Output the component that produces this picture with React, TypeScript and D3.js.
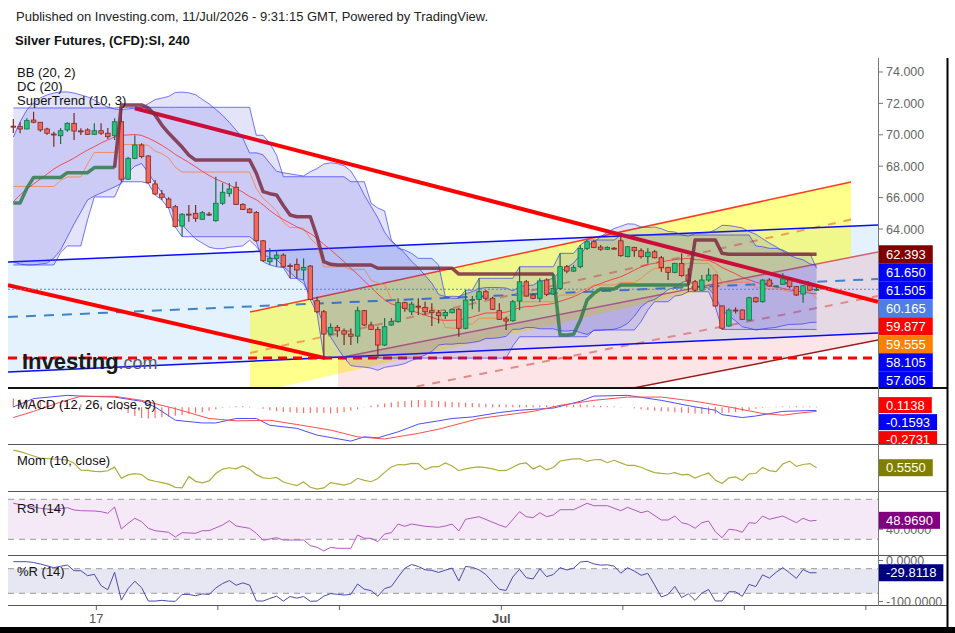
import React from "react";
import * as d3 from "d3";

// 4h candles (bar 0 = first visible bar)
const opens = [
  70.55, 70.52, 70.37, 70.94, 70.8, 70.37, 70.05, 69.94, 70.31, 70.73,
  70.25, 70.31, 70.03, 70.26, 70.1, 69.94, 70.83, 67.17, 68.5, 69.35,
  68.65, 66.87, 66.23, 65.91, 65.42, 64.19, 64.95, 65.0, 64.62, 64.95,
  64.53, 65.64, 66.27, 66.66, 65.57, 65.27, 65.06, 63.25, 61.92, 62.13,
  62.34, 61.67, 61.75, 61.39, 61.64, 59.43, 58.73, 57.31, 57.74, 57.52,
  57.31, 57.18, 58.8, 57.89, 57.61, 56.61, 57.89, 58.1, 59.31, 58.73,
  59.09, 59.01, 58.8, 58.67, 58.48, 58.67, 58.89, 57.68, 59.5, 59.52,
  60.01, 59.59, 58.8, 58.27, 58.16, 59.41, 60.64, 59.8, 59.59, 60.75,
  59.86, 60.22, 61.6, 61.32, 61.6, 62.77, 63.19, 62.85, 62.71, 62.78,
  63.25, 62.24, 62.83, 62.62, 62.24, 62.55, 62.17, 61.54, 61.24, 61.81,
  61.07, 60.64, 60.11, 60.75, 61.07, 59.1, 57.82, 58.84, 58.84, 58.2,
  59.62, 59.37, 60.75, 60.37, 60.48, 60.75, 60.33, 59.86, 60.39, 60.11,
];
const highs = [
  71.01, 70.8, 71.05, 71.47, 70.82, 70.45, 70.2, 70.43, 70.8, 71.39,
  70.41, 70.41, 70.73, 70.73, 70.43, 71.05, 71.75, 68.6, 69.97, 69.46,
  68.7, 67.12, 66.48, 66.02, 65.53, 65.02, 65.53, 65.53, 65.15, 65.08,
  67.33, 66.93, 66.93, 67.01, 65.64, 65.34, 65.15, 63.3, 62.77, 62.66,
  62.45, 61.81, 62.13, 62.13, 61.71, 59.69, 58.84, 57.99, 57.89, 57.67,
  57.67, 59.05, 58.84, 58.1, 57.78, 58.33, 58.33, 59.59, 59.37, 59.37,
  59.59, 59.37, 59.27, 58.84, 58.84, 58.95, 58.97, 60.11, 59.73, 60.86,
  60.11, 59.69, 59.27, 58.41, 59.48, 61.6, 60.75, 59.9, 60.86, 60.86,
  61.18, 62.45, 61.71, 61.71, 62.98, 63.3, 63.3, 62.98, 62.9, 62.85,
  63.62, 62.92, 62.87, 62.77, 62.77, 62.66, 62.28, 61.6, 61.85, 62.45,
  61.505, 60.75, 61.07, 61.5, 61.11, 59.15, 58.95, 59.01, 58.89, 59.69,
  59.69, 60.8, 60.86, 60.42, 61.18, 60.86, 60.37, 60.43, 60.5, 60.33,
];
const lows = [
  70.11, 70.1, 70.35, 70.73, 70.2, 70.0, 69.24, 69.41, 70.2, 69.67,
  69.99, 69.99, 69.99, 69.99, 69.73, 69.67, 67.01, 67.12, 68.44, 68.5,
  66.9, 66.17, 65.85, 65.32, 64.11, 63.51, 64.46, 64.46, 64.57, 64.83,
  64.46, 65.53, 66.06, 65.53, 65.21, 65.0, 63.19, 61.92, 61.71, 61.6,
  61.54, 60.86, 60.86, 60.75, 59.48, 58.63, 55.85, 57.25, 57.14, 56.61,
  56.61, 56.72, 57.82, 57.57, 55.78, 56.55, 57.82, 58.03, 58.73, 58.52,
  58.52, 58.52, 57.82, 57.99, 58.25, 58.63, 57.14, 57.61, 58.89, 58.73,
  59.48, 58.84, 58.2, 57.57, 58.1, 58.84, 59.69, 59.52, 59.37, 59.73,
  59.8, 60.11, 61.18, 61.28, 61.5, 62.66, 62.77, 62.62, 62.66, 62.7,
  62.24, 62.2, 62.24, 62.13, 61.81, 62.13, 61.28, 60.75, 61.18, 60.96,
  60.01, 60.01, 60.07, 60.64, 59.05, 57.605, 57.78, 58.63, 58.2, 58.16,
  59.31, 59.31, 60.33, 60.33, 60.43, 60.22, 59.73, 59.31, 60.07, 60.07,
];
const closes = [
  70.5, 70.37, 70.9, 70.8, 70.31, 70.1, 70.02, 70.26, 70.73, 70.24,
  70.22, 70.03, 70.26, 70.1, 69.88, 70.83, 67.17, 68.5, 69.35, 68.61,
  66.95, 66.23, 66.02, 65.38, 64.15, 64.94, 64.93, 64.68, 65.04, 64.93,
  65.64, 66.34, 66.55, 65.57, 65.25, 65.04, 63.25, 61.98, 62.13, 62.34,
  61.6, 61.65, 61.39, 61.56, 59.52, 58.73, 57.31, 57.74, 57.52, 57.31,
  57.17, 58.8, 57.89, 57.61, 56.61, 57.78, 58.1, 59.31, 58.95, 59.22,
  59.03, 58.73, 58.67, 58.48, 58.69, 58.89, 57.68, 59.48, 59.52, 60.01,
  59.59, 58.89, 58.25, 58.14, 59.37, 60.64, 59.73, 59.59, 60.69, 59.84,
  60.22, 61.6, 61.32, 61.54, 62.77, 63.19, 62.83, 62.71, 62.83, 62.76,
  62.3, 62.87, 62.62, 62.24, 62.52, 62.17, 61.54, 61.24, 61.81, 61.03,
  60.69, 60.11, 60.75, 61.07, 59.1, 57.68, 58.84, 58.82, 58.25, 59.62,
  59.37, 60.75, 60.37, 60.38, 60.82, 60.33, 59.8, 60.39, 60.11, 60.165,
];

// SuperTrend (10, 3), read per bar
const superTrend = [
  65.66, 65.66, 66.6, 67.28, 67.28, 67.28, 67.28, 67.28, 67.59, 67.59,
  67.59, 67.59, 67.91, 67.91, 67.91, 67.91, 71.9, 71.9, 71.9, 71.9,
  71.7, 71.26, 70.62, 70.11, 69.67, 69.22, 68.71, 68.39, 68.39, 68.39,
  68.39, 68.39, 68.39, 68.39, 68.39, 68.39, 67.55, 66.38, 66.25, 66.17,
  65.5, 64.89, 64.78, 64.78, 64.78, 63.51, 61.92, 61.75, 61.71, 61.71,
  61.71, 61.71, 61.71, 61.71, 61.5, 61.5, 61.5, 61.5, 61.5, 61.5,
  61.5, 61.5, 61.5, 61.5, 61.5, 61.5, 61.13, 61.13, 61.13, 61.13,
  61.13, 61.13, 61.13, 61.13, 61.13, 61.13, 61.13, 61.13, 61.13, 61.13,
  61.13, 57.25, 57.25, 57.3, 58.2, 59.48, 59.9, 60.18, 60.18, 60.18,
  60.43, 60.43, 60.43, 60.43, 60.43, 60.43, 60.43, 60.43, 60.43, 60.43,
  60.43, 63.3, 63.3, 63.3, 63.3, 62.45, 62.393, 62.393, 62.393, 62.393,
  62.393, 62.393, 62.393, 62.393, 62.393, 62.393, 62.393, 62.393, 62.393, 62.393,
];

// first bars, whose windows reach back before the visible data
const bbUpperEarly = [69.86, 70.82, 71.58, 72.03, 72.35, 72.54, 72.66, 72.73, 72.73, 72.66, 72.54, 72.41, 72.22, 71.96, 71.77, 71.64, 71.6, 71.65, 71.7];
const bbBasisEarly = [65.74, 66.17, 66.55, 66.87, 67.18, 67.5, 67.82, 68.08, 68.29, 68.52, 68.78, 69.03, 69.24, 69.48, 69.67, 69.86, 69.96, 69.99, 70.02];
const bbLowerEarly = [61.9, 61.77, 61.71, 61.71, 61.77, 61.83, 62.15, 62.66, 63.49, 64.32, 65.08, 65.85, 66.1, 66.29, 66.48, 66.68, 66.9, 67.6, 68.0];
const dcUpperEarly = [71.71, 71.71, 71.71, 71.71, 71.71, 71.71, 71.71, 71.71, 71.71, 71.71, 71.71, 71.71, 71.71, 71.71, 71.71, 71.71, 71.75, 71.75, 71.75];
const dcLowerEarly = [61.71, 61.71, 61.71, 61.71, 61.71, 61.71, 61.71, 62.5, 62.92, 62.92, 62.92, 64.6, 66.04, 66.04, 66.04, 66.04, 67.01, 67.01, 67.01];
const momEarly = [6.2, 5.7, 5.0, 4.3, 3.6, 3.5, 3.3, 3.2, 3.0, 2.0];
const willrEarly = [-2.9, -2.9, -2.9, -5, -8.5, -13, -17.6, -14, -11, -24.9, -24.9, -37, -33.7];

// MACD (12, 26, close, 9): [bar, value]
const macdLine: [number, number][] = [
  [0, 0.02], [3, 0.45], [8, 0.62], [10, 0.58], [15, 0.53], [19, 0.31], [21, 0.02], [24, -0.67],
  [28, -0.81], [30, -0.81], [33, -0.58], [36, -0.58], [38, -0.93], [42, -1.09], [45, -1.44],
  [50, -1.75], [52, -1.53], [54, -1.58], [57, -1.27], [60, -0.87], [63, -0.7], [65, -0.58],
  [68, -0.5], [72, -0.27], [75, -0.15], [80, -0.04], [84, 0.31], [86, 0.58], [91, 0.62],
  [96, 0.36], [101, 0.02], [104, -0.15], [105, -0.38], [108, -0.53], [110, -0.45], [114, -0.21],
  [119, -0.1593],
];
const signalLine: [number, number][] = [
  [0, -0.53], [3, -0.21], [7, 0.27], [10, 0.57], [15, 0.57], [19, 0.36], [24, -0.07], [29, -0.58],
  [33, -0.7], [38, -0.67], [42, -0.89], [47, -1.18], [51, -1.53], [55, -1.64], [60, -1.35],
  [63, -1.13], [65, -0.95], [69, -0.58], [77, -0.21], [81, 0.1], [86, 0.36], [91, 0.53],
  [96, 0.53], [101, 0.31], [106, 0.02], [111, -0.32], [114, -0.41], [116, -0.32], [119, -0.21],
];
const macdHist = [
  0.45, 0.42, 0.4, 0.38, 0.35, 0.32, 0.28, 0.25, 0.22, 0.18,
  0.15, 0.12, 0.08, 0.05, 0.02, -0.02, -0.15, -0.3, -0.45, -0.55,
  -0.58, -0.56, -0.52, -0.48, -0.44, -0.4, -0.35, -0.3, -0.25, -0.18,
  -0.1, -0.03, 0.03, 0.05, 0.05, 0.03, 0.0, -0.08, -0.15, -0.2,
  -0.24, -0.26, -0.28, -0.3, -0.3, -0.28, -0.3, -0.32, -0.3, -0.25,
  -0.18, -0.1, 0.02, 0.08, 0.14, 0.2, 0.25, 0.3, 0.33, 0.36,
  0.38, 0.36, 0.34, 0.32, 0.3, 0.28, 0.26, 0.24, 0.22, 0.2,
  0.18, 0.16, 0.15, 0.14, 0.13, 0.12, 0.12, 0.11, 0.1, 0.1,
  0.09, 0.1, 0.12, 0.13, 0.14, 0.12, 0.1, 0.08, 0.06, 0.04,
  0.02, 0.0, -0.05, -0.1, -0.14, -0.18, -0.2, -0.22, -0.25, -0.28,
  -0.3, -0.32, -0.33, -0.34, -0.32, -0.3, -0.28, -0.25, -0.2, -0.14,
  -0.08, -0.03, 0.02, 0.03, 0.04, 0.04, 0.05, 0.04, 0.04, 0.03,
];

// RSI (14): [bar, value]
const rsiLine: [number, number][] = [
  [0, 66], [2, 63.6], [4, 61], [6, 59.6], [8, 61.6], [9, 59.3], [10, 58.6], [12, 58.3], [13, 57.6],
  [14, 56], [15, 62.3], [16, 40.3], [17, 46], [18, 51], [19, 47.6], [20, 41], [21, 38.6], [23, 37],
  [24, 32.3], [25, 36.6], [27, 36], [28, 38.6], [29, 38.6], [31, 44.3], [32, 48.6], [33, 43.3],
  [35, 41], [36, 36], [37, 29], [39, 31.6], [40, 29.3], [41, 29.3], [43, 29.3], [44, 23.6], [45, 22],
  [46, 18.3], [47, 22], [48, 21], [50, 21], [51, 34.3], [52, 31], [53, 31], [54, 27.6], [55, 35.3],
  [56, 36.6], [57, 45.3], [58, 43], [59, 45.3], [61, 43], [63, 42], [64, 43.3], [65, 45.3], [66, 38.3],
  [67, 50], [69, 52.6], [72, 44.3], [73, 42], [75, 57.6], [76, 52.6], [77, 51.6], [78, 56.6],
  [79, 52.6], [80, 54.3], [81, 59.6], [83, 59.6], [85, 66], [86, 63.6], [88, 63.6], [90, 58.6],
  [91, 62], [93, 56.6], [94, 58.3], [96, 49.3], [97, 49.3], [98, 53.3], [99, 46.6], [100, 45],
  [101, 41], [102, 46.6], [103, 48.3], [104, 37.6], [105, 31.6], [106, 40], [107, 39.3], [108, 37],
  [109, 46.6], [110, 46], [111, 53.3], [112, 50], [114, 53.3], [116, 46.6], [117, 51], [118, 48.3],
  [119, 48.969],
];

const priceTicks = [64, 66, 68, 70, 72, 74];
const timeTicks = [12.3, 30.3, 48.3, 72.3, 90.3, 108.3, 126.3];
const timeLabels = ["17", "", "", "Jul", "", "", ""];

const priceTags = ["62.393", "61.650", "61.505", "60.165", "59.877", "59.555", "58.105", "57.605"];
const priceTagColors = ["#800000", "#0000ff", "#0000ff", "#4f7fe6", "#ff0000", "#ff7f00", "#0000ff", "#0000ff"];
const macdTags = ["0.1138", "-0.1593", "-0.2731"];
const macdTagColors = ["#ff0000", "#0000ff", "#ff0000"];
const momTag = "0.5550";
const rsiTag = "48.9690";
const willrTag = "-29.8118";

// drawings on the chart: [bar, price]
const blueTop: [number, number][] = [[-0.79, 61.9], [128.1, 64.25]];
const blueBottom: [number, number][] = [[-0.79, 54.89], [128.1, 57.38]];
const yellowTop: [number, number][] = [[35.06, 58.71], [124.1, 66.99]];
const yellowBottom: [number, number][] = [[35.06, 53.5], [124.1, 62.22]];
const pinkTop: [number, number][] = [[48.1, 55.78], [128.1, 62.54]];
const pinkBottom: [number, number][] = [[48.1, 50.19], [128.1, 56.93]];
const redUpper: [number, number][] = [[18.0, 71.69], [128.1, 59.37]];
const redLower: [number, number][] = [[-0.79, 60.43], [46.2, 55.78]];
const supportLevel = 55.78;

const App: React.FC = () => {
  const svgRef = React.useRef<SVGSVGElement | null>(null);

  React.useEffect(() => {
    if (!svgRef.current) return;
    const svg = d3.select(svgRef.current);
    svg.selectAll("*").remove();

    const font = "'Liberation Sans', Arial, Helvetica, sans-serif";
    const n = closes.length;
    const left = 8;
    const right = 878;
    const edge = 947;
    const main = { top: 58, bottom: 387 };
    const macdP = { top: 388, bottom: 444 };
    const momP = { top: 444, bottom: 491 };
    const rsiP = { top: 491, bottom: 555 };
    const wrP = { top: 555, bottom: 605 };

    const x = d3.scaleLinear().domain([-0.79, 128.1]).range([left, right]);
    const y = d3.scaleLinear().domain([53.94, 74.89]).range([main.bottom, main.top]);
    const yMacd = d3.scaleLinear().domain([-1.9, 1.0]).range([macdP.bottom, macdP.top]);
    const yMom = d3.scaleLinear().domain([-6.92, 8.14]).range([momP.bottom, momP.top]);
    const yRsi = d3.scaleLinear().domain([14.3, 78.3]).range([rsiP.bottom, rsiP.top]);
    const yWr = d3.scaleLinear().domain([-108.5, 13.4]).range([wrP.bottom, wrP.top]);

    // indicators from the candles
    const win = (arr: number[], i: number, len: number) => arr.slice(i - len + 1, i + 1);
    const bb = closes.map((_, i) => {
      if (i < 19) return { up: bbUpperEarly[i], mid: bbBasisEarly[i], lo: bbLowerEarly[i] };
      const w = win(closes, i, 20);
      const m = d3.mean(w) as number;
      const sd = Math.sqrt(d3.mean(w, (c) => (c - m) ** 2) as number);
      return { up: m + 2 * sd, mid: m, lo: m - 2 * sd };
    });
    const dc = closes.map((_, i) => {
      const up = i < 19 ? dcUpperEarly[i] : (d3.max(win(highs, i, 20)) as number);
      const lo = i < 19 ? dcLowerEarly[i] : (d3.min(win(lows, i, 20)) as number);
      return { up, lo, mid: (up + lo) / 2 };
    });
    const mom = closes.map((c, i) => (i < 10 ? momEarly[i] : c - closes[i - 10]));
    const willr = closes.map((c, i) => {
      if (i < 13) return willrEarly[i];
      const hh = d3.max(win(highs, i, 14)) as number;
      const ll = d3.min(win(lows, i, 14)) as number;
      return ((hh - c) / (hh - ll)) * -100;
    });

    svg.append("rect").attr("width", 955).attr("height", 633).attr("fill", "#fff");

    const defs = svg.append("defs");
    const addClip = (id: string, x0: number, x1: number, top: number, bottom: number) =>
      defs.append("clipPath").attr("id", id).append("rect")
        .attr("x", x0).attr("y", top).attr("width", x1 - x0).attr("height", bottom - top);
    addClip("c-main", left, right, main.top, main.bottom);
    addClip("c-macd", left, right, macdP.top, macdP.bottom);
    addClip("c-mom", left, right, momP.top, momP.bottom);
    addClip("c-rsi", left, right, rsiP.top, rsiP.bottom);
    addClip("c-wr", left, right, wrP.top, wrP.bottom);
    addClip("a-main", right, edge, main.top, main.bottom);
    addClip("a-macd", right, edge, macdP.top + 1, macdP.bottom);
    addClip("a-mom", right, edge, momP.top + 1, momP.bottom);
    addClip("a-rsi", right, edge, rsiP.top + 1, rsiP.bottom);
    addClip("a-wr", right, edge, wrP.top + 1, wrP.bottom + 2);

    const lineOf = (sy: d3.ScaleLinear<number, number>) =>
      d3.line<[number, number]>().x((d) => x(d[0])).y((d) => sy(d[1]));
    const priceLine = lineOf(y);

    const g = svg.append("g").attr("clip-path", "url(#c-main)");

    const poly = (top: [number, number][], bottom: [number, number][], fill: string) =>
      g.append("path")
        .attr("d", priceLine([...top, ...bottom.slice().reverse()]) + "Z")
        .attr("fill", fill);
    const seg = (pts: [number, number][], stroke: string, width: number, dash?: string) =>
      g.append("path").attr("d", priceLine(pts)).attr("fill", "none")
        .attr("stroke", stroke).attr("stroke-width", width)
        .attr("stroke-dasharray", dash || null);
    const mid = (a: [number, number][], b: [number, number][]) =>
      a.map((p, k) => [p[0], (p[1] + b[k][1]) / 2] as [number, number]);

    // drawings
    poly(blueTop, blueBottom, "rgba(33,150,243,0.12)");
    poly(yellowTop, yellowBottom, "rgba(255,255,0,0.45)");
    poly(pinkTop, pinkBottom, "rgba(242,54,69,0.13)");
    seg(mid(blueTop, blueBottom), "#3d85c6", 2, "10,8");
    seg(mid(yellowTop, yellowBottom), "#f0a050", 2, "8,8");
    seg(mid(pinkTop, pinkBottom), "#e08a8a", 2, "8,8");
    seg(yellowTop, "#ff3b1f", 1.5);
    seg(pinkTop, "#d0606a", 1.5);
    seg(pinkBottom, "#9b1c1c", 1.5);
    seg(blueTop, "#0a0aff", 1.5);
    seg(blueBottom, "#0a0aff", 1.5);
    seg(redUpper, "#ff0000", 4);
    seg(redLower, "#ff0000", 4);
    seg([[-0.79, supportLevel], [128.1, supportLevel]], "#ff0000", 3, "9,6");

    // Bollinger and Donchian fills
    const idx = d3.range(n);
    const areaOf = (up: (i: number) => number, lo: (i: number) => number) =>
      d3.area<number>().x((i) => x(i)).y0((i) => y(lo(i))).y1((i) => y(up(i)))(idx);
    g.append("path").attr("d", areaOf((i) => dc[i].up, (i) => dc[i].lo)).attr("fill", "rgba(60,60,220,0.14)");
    g.append("path").attr("d", areaOf((i) => bb[i].up, (i) => bb[i].lo)).attr("fill", "rgba(60,60,220,0.14)");

    const series = (vals: number[], stroke: string, width: number, opacity: number) =>
      g.append("path")
        .attr("d", priceLine(vals.map((v, i) => [i, v] as [number, number])))
        .attr("fill", "none").attr("stroke", stroke)
        .attr("stroke-width", width).attr("stroke-opacity", opacity);
    series(dc.map((d) => d.up), "#3030ff", 1, 0.65);
    series(dc.map((d) => d.lo), "#3030ff", 1, 0.65);
    series(dc.map((d) => d.mid), "#ff7a30", 1, 0.75);
    series(bb.map((d) => d.up), "#3030ff", 1, 0.65);
    series(bb.map((d) => d.lo), "#3030ff", 1, 0.65);
    series(bb.map((d) => d.mid), "#ff2020", 1, 0.75);

    // last close line
    seg([[-0.79, closes[n - 1]], [128.1, closes[n - 1]]], "#5b7fd8", 1, "2,2");

    // candles
    const bw = 4.6;
    idx.forEach((i) => {
      const o = opens[i], c = closes[i];
      const up = c > o, down = c < o;
      const edgeC = up ? "#1d6b45" : down ? "#7a2a24" : "#4a2a2a";
      const fill = up ? "#21c47c" : down ? "#f4675a" : "#4a2a2a";
      g.append("line").attr("x1", x(i)).attr("x2", x(i))
        .attr("y1", y(highs[i])).attr("y2", y(lows[i]))
        .attr("stroke", edgeC).attr("stroke-width", 1.2);
      const top = y(Math.max(o, c));
      const h = Math.max(1, Math.abs(y(o) - y(c)));
      g.append("rect").attr("x", x(i) - bw / 2).attr("y", top)
        .attr("width", bw).attr("height", h)
        .attr("fill", fill).attr("stroke", edgeC).attr("stroke-width", 0.8);
    });

    // SuperTrend, coloured by trend
    const trendUp = closes.map((c, i) => c > superTrend[i]);
    let start = 0;
    for (let i = 1; i <= n; i++) {
      if (i === n || trendUp[i] !== trendUp[start]) {
        const pts = d3.range(Math.max(0, start - 1), i).map((k) => [k, superTrend[k]] as [number, number]);
        g.append("path").attr("d", priceLine(pts)).attr("fill", "none")
          .attr("stroke", trendUp[start] ? "#2e7d4a" : "#7b2b3f")
          .attr("stroke-width", 3.5).attr("stroke-opacity", 0.85)
          .attr("stroke-linejoin", "round");
        start = i;
      }
    }

    // watermark
    const logo = g.append("text").attr("x", 22).attr("y", 369).attr("font-family", font);
    logo.append("tspan").text("Investing").attr("font-size", 22).attr("font-weight", "bold").attr("fill", "#1a1a1a");
    logo.append("tspan").text(".com").attr("font-size", 18).attr("fill", "#5a5a5a");

    // legends
    const legend = (txt: string, ly: number) =>
      svg.append("text").attr("x", 17).attr("y", ly).attr("font-family", font)
        .attr("font-size", 13).attr("fill", "#111").text(txt);
    legend("BB (20, 2)", 77);
    legend("DC (20)", 91);
    legend("SuperTrend (10, 3)", 105);

    // MACD pane
    const gm = svg.append("g").attr("clip-path", "url(#c-macd)");
    idx.forEach((i) => {
      gm.append("line").attr("x1", x(i)).attr("x2", x(i))
        .attr("y1", yMacd(0)).attr("y2", yMacd(macdHist[i]))
        .attr("stroke", "#ff5252").attr("stroke-width", 1.2).attr("stroke-opacity", 0.85);
    });
    gm.append("path").attr("d", lineOf(yMacd)(macdLine)).attr("fill", "none").attr("stroke", "#4d4dff").attr("stroke-width", 1);
    gm.append("path").attr("d", lineOf(yMacd)(signalLine)).attr("fill", "none").attr("stroke", "#ff4d4d").attr("stroke-width", 1);
    legend("MACD (12, 26, close, 9)", 409);

    // Momentum pane
    const go = svg.append("g").attr("clip-path", "url(#c-mom)");
    go.append("path").attr("d", lineOf(yMom)(mom.map((v, i) => [i, v] as [number, number])))
      .attr("fill", "none").attr("stroke", "#adad3e").attr("stroke-width", 1.2);
    legend("Mom (10, close)", 465);

    // RSI pane
    const gr = svg.append("g").attr("clip-path", "url(#c-rsi)");
    gr.append("rect").attr("x", left).attr("width", right - left)
      .attr("y", yRsi(70)).attr("height", yRsi(30) - yRsi(70)).attr("fill", "rgba(156,39,176,0.1)");
    [70, 30].forEach((v) =>
      gr.append("line").attr("x1", left).attr("x2", right).attr("y1", yRsi(v)).attr("y2", yRsi(v))
        .attr("stroke", "#9a9a9a").attr("stroke-dasharray", "6,5"));
    gr.append("path").attr("d", lineOf(yRsi)(rsiLine)).attr("fill", "none").attr("stroke", "#b05ac0").attr("stroke-width", 1);
    legend("RSI (14)", 513);

    // Williams %R pane
    const gw = svg.append("g").attr("clip-path", "url(#c-wr)");
    gw.append("rect").attr("x", left).attr("width", right - left)
      .attr("y", yWr(-20)).attr("height", yWr(-80) - yWr(-20)).attr("fill", "rgba(60,60,160,0.12)");
    [-20, -80].forEach((v) =>
      gw.append("line").attr("x1", left).attr("x2", right).attr("y1", yWr(v)).attr("y2", yWr(v))
        .attr("stroke", "#9a9a9a").attr("stroke-dasharray", "6,5"));
    gw.append("path").attr("d", lineOf(yWr)(willr.map((v, i) => [i, v] as [number, number])))
      .attr("fill", "none").attr("stroke", "#4b4bab").attr("stroke-width", 1);
    legend("%R (14)", 576);

    // frame
    [macdP.bottom, momP.bottom, rsiP.bottom, wrP.bottom].forEach((ly) =>
      svg.append("line").attr("x1", left).attr("x2", edge).attr("y1", ly + 0.5).attr("y2", ly + 0.5)
        .attr("stroke", "#555").attr("stroke-width", 1));
    svg.append("line").attr("x1", left).attr("x2", edge).attr("y1", main.bottom + 1).attr("y2", main.bottom + 1)
      .attr("stroke", "#111").attr("stroke-width", 2);
    svg.append("line").attr("x1", right + 0.5).attr("x2", right + 0.5).attr("y1", main.top).attr("y2", wrP.bottom + 1)
      .attr("stroke", "#777").attr("stroke-width", 1);
    svg.append("line").attr("x1", edge + 0.5).attr("x2", edge + 0.5).attr("y1", main.top).attr("y2", 627)
      .attr("stroke", "#000").attr("stroke-width", 2);
    svg.append("rect").attr("x", 0).attr("y", 627).attr("width", 955).attr("height", 6).attr("fill", "#000");

    // price axis
    const am = svg.append("g").attr("clip-path", "url(#a-main)");
    priceTicks.forEach((v) => {
      am.append("line").attr("x1", right).attr("x2", right + 5).attr("y1", y(v)).attr("y2", y(v)).attr("stroke", "#777");
      am.append("text").attr("x", 886).attr("y", y(v) + 4.5).attr("font-family", font)
        .attr("font-size", 12.5).attr("fill", "#666").text(v.toFixed(3));
    });

    const tag = (parent: d3.Selection<SVGGElement, unknown, null, undefined>, txt: string, cy: number, color: string, h: number) => {
      const t = parent.append("g");
      const r = t.append("rect").attr("x", right + 1).attr("y", cy - h / 2).attr("height", h).attr("fill", color);
      const tx = t.append("text").attr("x", 886).attr("y", cy + 4.5).attr("font-family", font)
        .attr("font-size", 13).attr("fill", "#fff").text(txt);
      const w = (tx.node() as SVGTextElement).getComputedTextLength();
      r.attr("width", w + 14);
    };
    const stack = (vals: number[], sy: (v: number) => number, gap: number) => {
      const out: number[] = [];
      vals.forEach((v, k) => out.push(k === 0 ? sy(v) : Math.max(sy(v), out[k - 1] + gap)));
      return out;
    };
    stack(priceTags.map(Number), y, 18).forEach((cy, k) => tag(am, priceTags[k], cy, priceTagColors[k], 18));

    const aM = svg.append("g").attr("clip-path", "url(#a-macd)");
    stack(macdTags.map(Number), yMacd, 17).forEach((cy, k) => tag(aM, macdTags[k], cy, macdTagColors[k], 16));

    const aO = svg.append("g").attr("clip-path", "url(#a-mom)");
    tag(aO, momTag, yMom(mom[n - 1]), "#808000", 17);

    const axisText = (parent: d3.Selection<SVGGElement, unknown, null, undefined>, txt: string, cy: number) => {
      parent.append("line").attr("x1", right).attr("x2", right + 5).attr("y1", cy).attr("y2", cy).attr("stroke", "#777");
      parent.append("text").attr("x", 886).attr("y", cy + 4.5).attr("font-family", font)
        .attr("font-size", 12.5).attr("fill", "#666").text(txt);
    };
    const aR = svg.append("g").attr("clip-path", "url(#a-rsi)");
    axisText(aR, "40.0000", yRsi(40));
    tag(aR, rsiTag, yRsi(rsiLine[rsiLine.length - 1][1]), "#800080", 17);

    const aW = svg.append("g").attr("clip-path", "url(#a-wr)");
    axisText(aW, "0.0000", yWr(0));
    axisText(aW, "-100.0000", yWr(-100));
    tag(aW, willrTag, yWr(willr[n - 1]), "#000080", 17);

    // time axis
    timeTicks.forEach((t, k) => {
      svg.append("line").attr("x1", x(t)).attr("x2", x(t)).attr("y1", wrP.bottom + 1).attr("y2", wrP.bottom + 5)
        .attr("stroke", "#666");
      if (timeLabels[k])
        svg.append("text").attr("x", x(t)).attr("y", 623).attr("text-anchor", "middle")
          .attr("font-family", font).attr("font-size", 13)
          .attr("font-weight", timeLabels[k] === "Jul" ? "bold" : "normal")
          .attr("fill", "#555").text(timeLabels[k]);
    });

    // header
    svg.append("text").attr("x", 16).attr("y", 21).attr("font-family", font).attr("font-size", 13)
      .attr("fill", "#222").text("Published on Investing.com, 11/Jul/2026 - 9:31:15 GMT, Powered by TradingView.");
    svg.append("text").attr("x", 15).attr("y", 45).attr("font-family", font).attr("font-size", 13)
      .attr("font-weight", "bold").attr("fill", "#111").text("Silver Futures, (CFD):SI, 240");
  }, []);

  return (
    <svg
      ref={svgRef}
      width={955}
      height={633}
      style={{ position: "absolute", left: 0, top: 0 }}
    />
  );
};

export default App;
